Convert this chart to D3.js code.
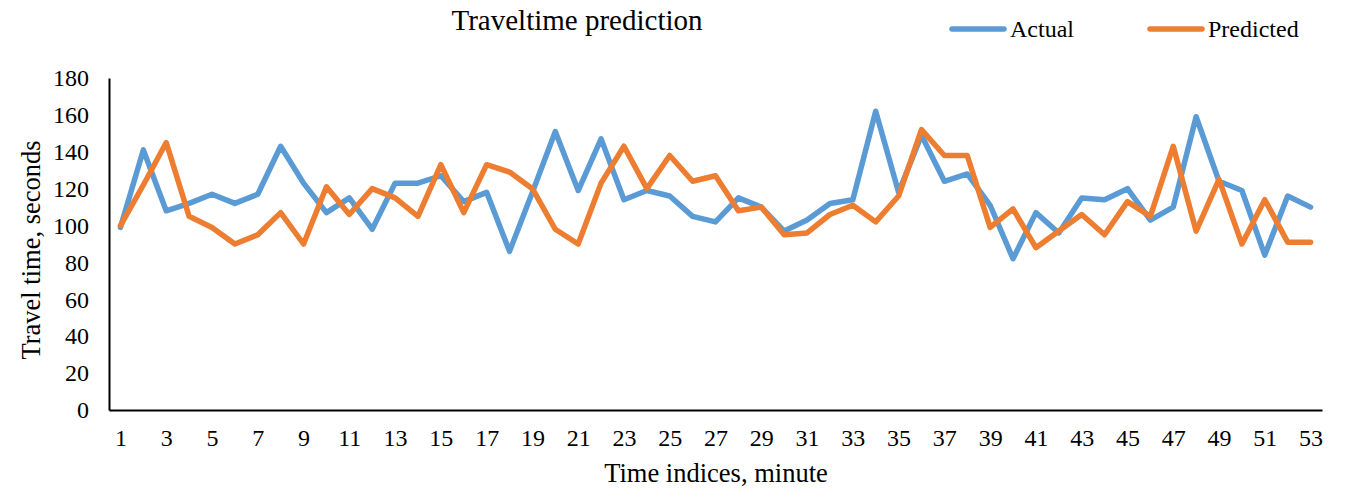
<!DOCTYPE html>
<html>
<head>
<meta charset="utf-8">
<script src="https://cdn.jsdelivr.net/npm/d3@7"></script>
<style>
  html, body { margin: 0; padding: 0; background: #fff; }
  svg { display: block; font-family: "Liberation Serif", "Times New Roman", serif; }
</style>
</head>
<body>
<svg id="chart" width="1353" height="489"></svg>
<script>
const indices = d3.range(1, 54);
const actual = [99, 141, 108, 112, 117, 112, 117, 143, 123, 107, 115, 98, 123, 123, 127, 113, 118, 86, 118, 151,
  119, 147, 114, 119, 116, 105, 102, 115, 110, 97, 103, 112, 114, 162, 118, 149, 124, 128, 111, 82,
  107, 96, 115, 114, 120, 103, 110, 159, 124, 119, 84, 116, 110];
const predicted = [100, 122, 145, 105, 99, 90, 95, 107, 90, 121, 106, 120, 115, 105, 133, 107, 133, 129, 120, 98,
  90, 123, 143, 120, 138, 124, 127, 108, 110, 95, 96, 106, 111, 102, 116, 152, 138, 138, 99, 109,
  88, 97, 106, 95, 113, 105, 143, 97, 125, 90, 114, 91, 91];
const yTicks = [0, 20, 40, 60, 80, 100, 120, 140, 160, 180];
const seriesNames = ["Actual", "Predicted"];
const colors = ["#5B9BD5", "#ED7D31"];

const svg = d3.select("#chart");
const x = d3.scalePoint().domain(indices).range([109, 1322]).padding(0.5);
const y = d3.scaleLinear().domain([0, 180]).range([410, 78]);

// Y axis
const yAxis = svg.append("g").attr("transform", "translate(109,0)")
  .call(d3.axisLeft(y).tickValues(yTicks).tickSize(0).tickPadding(20));
yAxis.select(".domain").attr("stroke", "#000").attr("stroke-width", 2);
yAxis.selectAll("text").attr("font-size", 24).attr("font-family", "Liberation Serif").attr("fill", "#000");

// X axis
const xAxis = svg.append("g").attr("transform", "translate(0,410)")
  .call(d3.axisBottom(x).tickValues(indices.filter(d => d % 2 === 1)).tickSize(0).tickPadding(19));
xAxis.select(".domain").attr("stroke", "#000").attr("stroke-width", 2);
xAxis.selectAll("text").attr("font-size", 24).attr("font-family", "Liberation Serif").attr("fill", "#000");

// Lines
const line = d3.line().x((d, i) => x(indices[i])).y(d => y(d));
[actual, predicted].forEach((s, k) => {
  svg.append("path").datum(s)
    .attr("d", line)
    .attr("fill", "none")
    .attr("stroke", colors[k])
    .attr("stroke-width", 5.5)
    .attr("stroke-linejoin", "round")
    .attr("stroke-linecap", "round");
});

// Title
svg.append("text").attr("x", 577).attr("y", 30).attr("text-anchor", "middle")
  .attr("font-size", 29).text("Traveltime prediction");

// Axis titles
svg.append("text").attr("x", 716).attr("y", 482).attr("text-anchor", "middle")
  .attr("font-size", 26.5).text("Time indices, minute");
svg.append("text").attr("transform", "translate(40,250) rotate(-90)").attr("text-anchor", "middle")
  .attr("font-size", 26.5).text("Travel time, seconds");

// Legend
const legX = [952, 1150];
seriesNames.forEach((n, k) => {
  svg.append("line").attr("x1", legX[k]).attr("x2", legX[k] + 52).attr("y1", 29).attr("y2", 29)
    .attr("stroke", colors[k]).attr("stroke-width", 5.5).attr("stroke-linecap", "round");
  svg.append("text").attr("x", legX[k] + 58).attr("y", 37).attr("font-size", 24).text(n);
});
</script>
</body>
</html>
